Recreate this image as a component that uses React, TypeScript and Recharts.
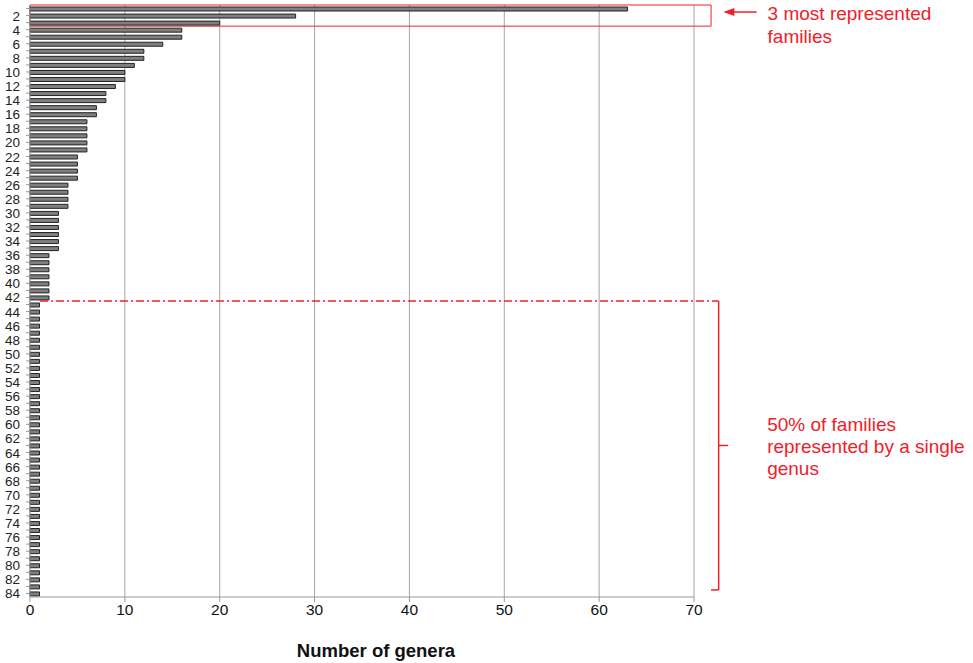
import React from 'react';
import {
  BarChart,
  Bar,
  XAxis,
  YAxis,
  CartesianGrid,
  ReferenceArea,
  ReferenceLine,
} from 'recharts';

// number of genera per family, families ranked 1..84
const genera = [
  63, 28, 20, 16, 16, 14, 12, 12, 11, 10, 10, 9, 8, 8, 7, 7, 6, 6, 6, 6, 6,
  5, 5, 5, 5, 4, 4, 4, 4, 3, 3, 3, 3, 3, 3, 2, 2, 2, 2, 2, 2, 2,
  1, 1, 1, 1, 1, 1, 1, 1, 1, 1, 1, 1, 1, 1, 1, 1, 1, 1, 1, 1, 1,
  1, 1, 1, 1, 1, 1, 1, 1, 1, 1, 1, 1, 1, 1, 1, 1, 1, 1, 1, 1, 1,
];
const families = genera.map((_, i) => String(i + 1));
const xTicks = [0, 10, 20, 30, 40, 50, 60, 70];

const topNote = ['3 most represented', 'families'];
const singleNote = ['50% of families', 'represented by a single', 'genus'];

const data = families.map((name, i) => ({ name, value: genera[i] }));

const RED = '#f0202a';

function FamilyTick(props: any) {
  const { x, y, payload } = props;
  const n = Number(payload.value);
  if (n % 2 !== 0) return null;
  return (
    <text x={x - 4} y={y} dy={5} textAnchor="end" fontSize={13.5} fill="#222">
      {payload.value}
    </text>
  );
}

function ArrowShape(props: any) {
  const { x1, y1, x2, y2 } = props;
  return (
    <g>
      <line x1={x1} y1={y1} x2={x2 + 8} y2={y2} stroke={RED} strokeWidth={1.5} />
      <polygon points={`${x2},${y2} ${x2 + 11},${y2 - 4} ${x2 + 11},${y2 + 4}`} fill={RED} />
      <text x={x1 + 11} y={y1} fontSize={19} fill={RED}>
        {topNote.map((t, i) => (
          <tspan key={t} x={x1 + 11} dy={i === 0 ? 8 : 23}>
            {t}
          </tspan>
        ))}
      </text>
    </g>
  );
}

function MidTickShape(props: any) {
  const { x1, y1, x2, y2 } = props;
  return (
    <g>
      <line x1={x1} y1={y1} x2={x2} y2={y2} stroke={RED} strokeWidth={1.5} />
      <text x={x2 + 39} y={y2} fontSize={19} fill={RED}>
        {singleNote.map((t, i) => (
          <tspan key={t} x={x2 + 39} dy={i === 0 ? -14 : 22}>
            {t}
          </tspan>
        ))}
      </text>
    </g>
  );
}

export default function App() {
  return (
    <div
      style={{
        position: 'absolute',
        left: 0,
        top: 0,
        width: 973,
        height: 663,
        background: '#fff',
        fontFamily: '"Liberation Sans", Arial, sans-serif',
      }}
    >
      <BarChart
        width={973}
        height={663}
        data={data}
        layout="vertical"
        margin={{ top: 5, right: 279, bottom: 6, left: 0 }}
        barSize={4}
      >
        <CartesianGrid horizontal={false} stroke="#a6a6a6" />
        <XAxis
          type="number"
          domain={[0, 70]}
          ticks={xTicks}
          stroke="#999"
          tick={{ fill: '#111', fontSize: 15.5 }}
          tickSize={5}
          height={60}
          label={{
            value: 'Number of genera',
            position: 'insideBottom',
            offset: 0,
            dx: 14,
            style: { fontWeight: 'bold', fontSize: 18.5, fill: '#111' },
          }}
        />
        <YAxis
          type="category"
          dataKey="name"
          width={30}
          interval={0}
          tick={<FamilyTick />}
          tickSize={4}
          stroke="#999"
        />
        <Bar
          dataKey="value"
          fill="#7f7f7f"
          stroke="#222"
          strokeWidth={1}
          isAnimationActive={false}
        />
        <ReferenceArea
          x1={0}
          x2={71.8}
          y1="1"
          y2="3"
          fill="none"
          stroke={RED}
          strokeWidth={1}
          fillOpacity={0}
          ifOverflow="visible"
        />
        <ReferenceLine
          segment={[{ x: 76.6, y: '1' }, { x: 73.1, y: '1' }]}
          position="end"
          ifOverflow="visible"
          shape={<ArrowShape />}
        />
        <ReferenceLine
          segment={[{ x: 1.05, y: '43' }, { x: 72.6, y: '43' }]}
          position="start"
          ifOverflow="visible"
          stroke={RED}
          strokeWidth={1.5}
          strokeDasharray="8 3 2 3"
        />
        <ReferenceLine
          segment={[{ x: 72.6, y: '43' }, { x: 72.6, y: '84' }]}
          position="start"
          ifOverflow="visible"
          stroke={RED}
          strokeWidth={1.5}
        />
        <ReferenceLine
          segment={[{ x: 71.8, y: '84' }, { x: 72.6, y: '84' }]}
          position="start"
          ifOverflow="visible"
          stroke={RED}
          strokeWidth={1.5}
        />
        <ReferenceLine
          segment={[{ x: 72.6, y: '63' }, { x: 73.6, y: '63' }]}
          position="middle"
          ifOverflow="visible"
          shape={<MidTickShape />}
        />
      </BarChart>
    </div>
  );
}
